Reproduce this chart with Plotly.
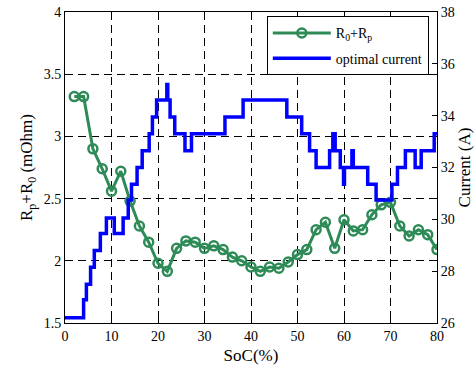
import plotly.graph_objects as go

# Resistance R0+Rp (mOhm) vs SoC (%)
soc_r = [2, 4, 6, 8, 10, 12, 14, 16, 18, 20, 22, 24, 26, 28, 30, 32, 34, 36, 38, 40,
         42, 44, 46, 48, 50, 52, 54, 56, 58, 60, 62, 64, 66, 68, 70, 72, 74, 76, 78, 80]
res = [3.32, 3.32, 2.90, 2.74, 2.56, 2.72, 2.48, 2.28, 2.15, 1.98, 1.915, 2.10, 2.16, 2.15,
       2.10, 2.12, 2.09, 2.03, 2.00, 1.95, 1.915, 1.95, 1.94, 1.99, 2.05, 2.09, 2.25, 2.31,
       2.10, 2.33, 2.24, 2.25, 2.37, 2.45, 2.47, 2.28, 2.20, 2.25, 2.21, 2.09]

# Optimal current (A): step breakpoints (SoC where level starts) and levels
soc_i = [0, 4.0, 4.6, 5.5, 6.3, 7.6, 8.9, 10.6, 12.5, 13.6, 14.3, 15.5, 16.6, 18.1, 18.8,
         19.7, 21.9, 22.1, 22.6, 23.6, 25.8, 27.2, 34.4, 38.3, 47.7, 50.9, 52.6, 54.0,
         56.9, 57.6, 58.1, 59.2, 59.9, 60.1, 61.7, 62.0, 65.1, 66.9, 70.3, 71.5, 73.2,
         75.3, 76.6, 79.4, 80]
cur = [26.2, 26.9, 27.5, 28.15, 28.8, 29.45, 30.05, 29.45, 30.05, 30.75, 31.35, 32.0,
       32.65, 33.3, 33.95, 34.6, 35.2, 34.6, 33.95, 33.3, 32.65, 33.3, 33.95, 34.6, 33.95,
       33.3, 32.65, 32.0, 32.65, 33.3, 32.65, 32.0, 31.35, 32.0, 32.65, 32.0, 31.35, 30.75,
       31.35, 32.0, 32.65, 32.0, 32.65, 33.3, 33.3]

x_ticks = [0, 10, 20, 30, 40, 50, 60, 70, 80]

FONT = "Liberation Serif, Times New Roman, serif"
green = "#2E8B57"

fig = go.Figure()
fig.add_trace(go.Scatter(
    x=soc_r, y=res, mode="lines+markers", name="R<sub>0</sub>+R<sub>p</sub>",
    legendgroup="a",
    line=dict(color=green, width=3),
    marker=dict(symbol="circle-open", size=9, color=green, line=dict(width=2.5, color=green)),
    yaxis="y"))
fig.add_trace(go.Scatter(
    x=soc_i, y=cur, mode="lines", name="optimal current",
    legendgroup="b",
    line=dict(color="#0000FF", width=3.5, shape="hv"),
    yaxis="y2"))

fig.update_layout(
    width=474, height=367,
    margin=dict(l=65, r=37, t=12, b=44),
    paper_bgcolor="white", plot_bgcolor="white",
    font=dict(family=FONT, size=14, color="black"),
    showlegend=True,
    legend=dict(x=0.978, y=0.986, xanchor="right", yanchor="top",
                bordercolor="black", borderwidth=1, bgcolor="white",
                font=dict(family=FONT, size=14, color="black"),
                tracegroupgap=4, itemwidth=58),
    xaxis=dict(range=[0, 80], tickvals=x_ticks, ticks="inside", ticklen=5,
               tickcolor="black", showline=True, linecolor="black", linewidth=1,
               mirror="ticks", showgrid=True, gridcolor="black", gridwidth=1,
               griddash="8px,5px", zeroline=False,
               title=dict(text="SoC(%)", standoff=6),
               tickfont=dict(family=FONT, size=14), automargin=False),
    yaxis=dict(range=[1.5, 4], dtick=0.5, ticks="inside", ticklen=5,
               tickcolor="black", showline=True, linecolor="black", linewidth=1,
               mirror=True, showgrid=True, gridcolor="black", gridwidth=1,
               griddash="8px,5px", zeroline=False,
               title=dict(text="R<sub>p</sub>+R<sub>0</sub> (mOhm)", standoff=6),
               tickfont=dict(family=FONT, size=14), automargin=False),
    yaxis2=dict(range=[26, 38], dtick=2, overlaying="y", side="right",
                ticks="inside", ticklen=5, tickcolor="black", showline=True,
                linecolor="black", linewidth=1, showgrid=False, zeroline=False,
                title=dict(text="Current (A)", standoff=10),
                tickfont=dict(family=FONT, size=14), automargin=False),
)

fig.write_html("out.html")
